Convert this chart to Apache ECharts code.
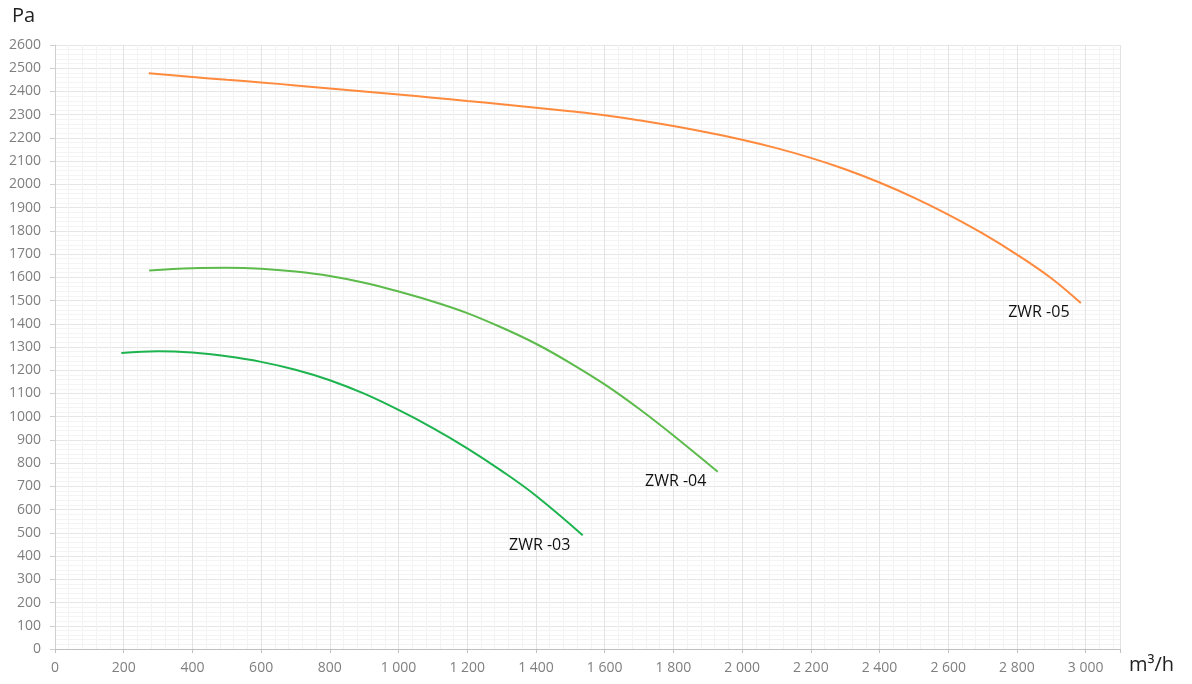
<!DOCTYPE html>
<html>
<head>
<meta charset="utf-8">
<script src="https://cdn.jsdelivr.net/npm/echarts@6/dist/echarts.min.js"></script>
<style>html,body{margin:0;padding:0;background:#fff}#c{width:1192px;height:684px}</style>
</head>
<body>
<div id="c"></div>
<script>
// Data (flow m3/h, pressure Pa)
const zwr05 = [[273,2478],[400,2462],[500,2450],[600,2439],[700,2426],[800,2413],[900,2400],[1000,2387],[1100,2373],[1200,2359],[1300,2345],[1400,2330],[1500,2315],[1600,2298],[1700,2276],[1800,2251],[1900,2223],[2000,2192],[2100,2156],[2200,2114],[2300,2065],[2400,2008],[2500,1943],[2600,1870],[2700,1789],[2800,1698],[2900,1596],[2986,1489]];
const zwr04 = [[274,1629],[400,1639],[500,1641],[600,1637],[700,1625],[800,1606],[900,1577],[1000,1539],[1100,1496],[1200,1446],[1300,1384],[1400,1314],[1500,1231],[1600,1139],[1700,1034],[1800,919],[1929,763]];
const zwr03 = [[193,1274],[300,1282],[400,1276],[500,1260],[600,1236],[700,1202],[800,1157],[900,1099],[1000,1029],[1100,951],[1200,864],[1300,767],[1400,660],[1536,490]];
const seriesNames = ['ZWR -05','ZWR -04','ZWR -03'];
const xUnit = 'm³/h';
const yUnit = 'Pa';

const colors = ['#FF8A3D','#5DBB4C','#1DB34E'];
const fmt = v => String(v).replace(/\B(?=(\d{3})+(?!\d))/g, ' ');

function mkSeries(name, data, color, offset) {
  const last = data[data.length-1];
  return {
    name, type:'line', data, smooth:0.4, showSymbol:false, symbol:'none',
    lineStyle:{color, width:2}, itemStyle:{color},
    markPoint:{
      symbol:'circle', symbolSize:0, silent:true,
      data:[{coord:last, value:name}],
      label:{show:true, formatter:name, color:'#111', fontFamily:'Open Sans', fontSize:16, offset}
    }
  };
}

const chart = echarts.init(document.getElementById('c'));
chart.setOption({
  animation:false,
  grid:{left:55, right:72, top:45, bottom:35},
  xAxis:{
    type:'value', min:0, max:3100, interval:200,
    axisLine:{show:true, lineStyle:{color:'#bfbfbf'}},
    axisTick:{show:true, length:4, lineStyle:{color:'#bfbfbf'}},
    axisLabel:{color:'#7f7f7f', fontFamily:'Open Sans', fontSize:14, margin:12,
      formatter:v => v > 3000 ? '' : fmt(v)},
    splitLine:{show:true, lineStyle:{color:'#e3e3e3'}},
    minorTick:{show:false, splitNumber:5},
    minorSplitLine:{show:true, lineStyle:{color:'#f3f3f3'}}
  },
  yAxis:{
    type:'value', min:0, max:2600, interval:100,
    axisLine:{show:true, lineStyle:{color:'#d0d0d0'}},
    axisTick:{show:true, length:5, lineStyle:{color:'#d0d0d0'}},
    axisLabel:{color:'#7f7f7f', fontFamily:'Open Sans', fontSize:14, margin:14,
      formatter:v => String(v)},
    splitLine:{show:true, lineStyle:{color:'#e6e6e6'}},
    minorTick:{show:false, splitNumber:5},
    minorSplitLine:{show:true, lineStyle:{color:'#f4f4f4'}}
  },
  graphic:[
    {type:'text', left:12, top:6, style:{text:yUnit, fontFamily:'Open Sans', fontSize:20, fill:'#222'}},
    {type:'text', left:1129, top:655, style:{text:xUnit, fontFamily:'Open Sans', fontSize:20, fill:'#222'}}
  ],
  series:[
    mkSeries(seriesNames[0], zwr05, colors[0], [-42, 9]),
    mkSeries(seriesNames[1], zwr04, colors[1], [-42, 10]),
    mkSeries(seriesNames[2], zwr03, colors[2], [-43, 10])
  ]
});
</script>
</body>
</html>
